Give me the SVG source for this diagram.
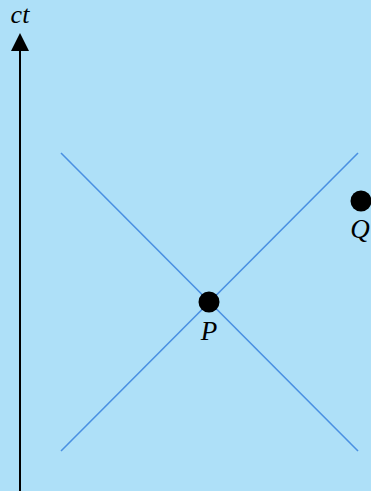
<svg xmlns="http://www.w3.org/2000/svg" width="371" height="491" viewBox="0 0 371 491">
<style>
.lbl{font-family:"Liberation Serif","DejaVu Serif",serif;font-style:italic;fill:#000;text-anchor:middle}
.cone{stroke:#4a90e2;stroke-width:1.6;fill:none}
</style>
<rect width="371" height="491" fill="#aee0f8"/>
<g id="connectors">
<line class="cone" x1="61" y1="153" x2="358" y2="451"/>
<line class="cone" x1="61" y1="451" x2="358" y2="153"/>
<line x1="20" y1="491" x2="20" y2="48" stroke="#000" stroke-width="2"/>
<polygon points="20,33 11,51 29,51" fill="#000"/>
</g>
<g id="axis-label"><text class="lbl" font-size="26" x="20" y="23">ct</text></g>
<g id="P"><circle cx="209" cy="302" r="10.5" fill="#000"/><text class="lbl" font-size="27" x="209" y="340">P</text></g>
<g id="Q"><circle cx="361" cy="201" r="10.5" fill="#000"/><text class="lbl" font-size="27" x="360" y="238">Q</text></g>
</svg>
